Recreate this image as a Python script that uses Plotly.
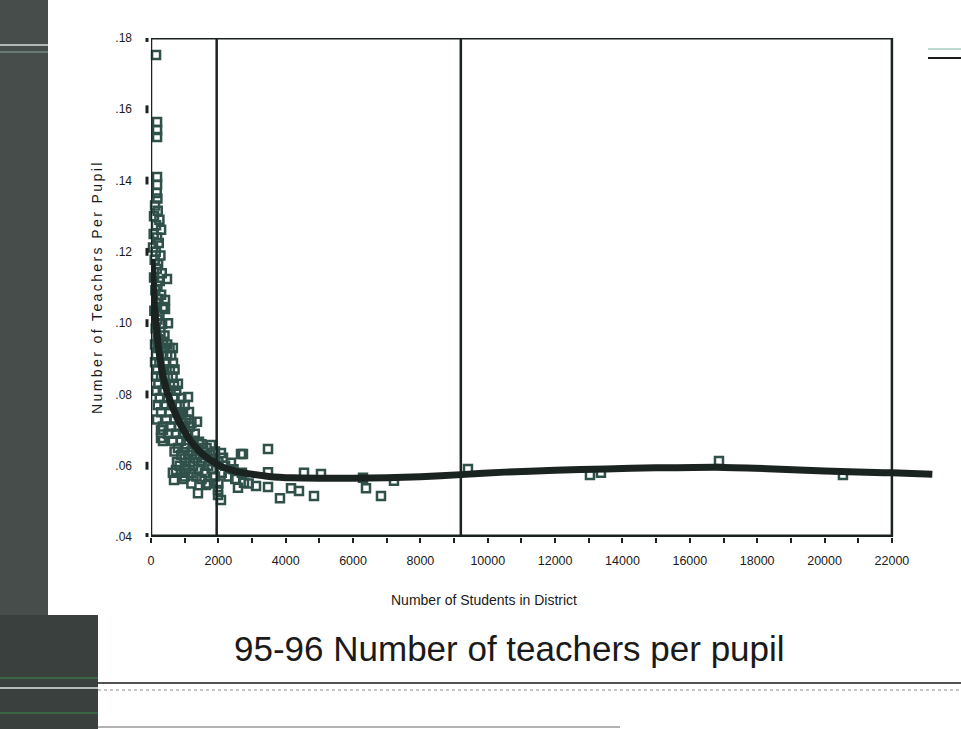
import plotly.graph_objects as go

# District enrolment vs. teachers per pupil, 1995-96
students = [
    150, 180, 180, 180, 180, 180, 170, 190,
    120, 200, 90, 250, 150, 300, 80, 180, 230, 60, 140, 280, 110, 210, 170, 320,
    90, 260, 475, 190, 130, 300, 416, 220, 160, 350, 416, 100, 250, 505, 190, 330,
    140, 280, 400, 200, 350, 480, 120,
    200, 400, 550, 650,
    150, 330, 480, 600,
    250, 450, 653, 120,
    180, 380, 560, 700,
    300, 500, 640, 150,
    220, 420, 683, 800,
    160, 350, 580, 750,
    260, 480, 700, 1099, 900,
    200, 400, 620, 850, 1000,
    300, 550, 780, 1128, 950,
    831,
    180, 450, 700, 900, 1050,
    1366, 1200,
    350, 600, 820, 1000, 1150,
    297, 356,
    500, 750, 950, 1100, 1300,
    297, 1425,
    356, 650, 880, 1250,
    1500, 1781, 1050,
    800, 1000, 1350, 1650,
    700, 1200, 1550, 1900,
    900, 1100, 1450, 1750, 2672,
    2078,
    772, 1000, 1300, 1600, 1850, 2138,
    1150, 1500, 2000, 2375,
    850, 1250, 1700, 2200,
    742, 1050, 1400, 1800, 2450,
    650, 900, 1200, 1600, 2100, 2700, 3474,
    1000, 1350, 1900, 2300,
    950, 683, 1500, 2500,
    1200, 1700, 2000, 2761, 2900,
    1633, 2583, 3118, 3474,
    1990, 1395, 1990, 2078,
    2731, 3474, 3830, 4157, 4394, 4543, 4840, 5047, 6295, 6384, 6829, 7215,
    9412, 13034, 13360, 16865, 20546,
]
teachers_per_pupil = [
    0.1752, 0.1564, 0.1542, 0.1522, 0.1410, 0.1388, 0.1365, 0.1350,
    0.1330, 0.1315, 0.1300, 0.1290, 0.1275, 0.1262, 0.1250, 0.1240, 0.1225, 0.1212, 0.1200, 0.1190, 0.1178, 0.1165, 0.1152, 0.1140,
    0.1128, 0.1118, 0.1124, 0.1105, 0.1092, 0.1080, 0.1065, 0.1068, 0.1055, 0.1045, 0.1040, 0.1035, 0.1022, 0.1000, 0.1010, 0.0998,
    0.0985, 0.0975, 0.0965, 0.0955, 0.0948, 0.0940, 0.0940,
    0.093, 0.093, 0.093, 0.093,
    0.091, 0.091, 0.091, 0.091,
    0.089, 0.089, 0.0888, 0.089,
    0.087, 0.087, 0.087, 0.087,
    0.085, 0.085, 0.085, 0.085,
    0.083, 0.083, 0.0824, 0.083,
    0.081, 0.081, 0.081, 0.081,
    0.079, 0.079, 0.079, 0.0793, 0.079,
    0.077, 0.077, 0.077, 0.077, 0.077,
    0.075, 0.075, 0.075, 0.0751, 0.075,
    0.0742,
    0.073, 0.073, 0.073, 0.073, 0.073,
    0.0723, 0.072,
    0.071, 0.071, 0.071, 0.071, 0.071,
    0.0700, 0.0700,
    0.069, 0.069, 0.069, 0.069, 0.069,
    0.0678, 0.0667,
    0.0669, 0.067, 0.067, 0.067,
    0.066, 0.0658, 0.066,
    0.065, 0.065, 0.065, 0.065,
    0.064, 0.064, 0.064, 0.064,
    0.063, 0.063, 0.063, 0.063, 0.0633,
    0.0636,
    0.0610, 0.062, 0.062, 0.062, 0.062, 0.0622,
    0.061, 0.061, 0.061, 0.0608,
    0.060, 0.060, 0.060, 0.060,
    0.0588, 0.059, 0.059, 0.059, 0.059,
    0.058, 0.058, 0.058, 0.058, 0.058, 0.058, 0.0582,
    0.057, 0.057, 0.057, 0.057,
    0.0563, 0.0560, 0.0563, 0.0563,
    0.055, 0.055, 0.055, 0.0552, 0.055,
    0.0546, 0.0538, 0.0543, 0.0540,
    0.0532, 0.0523, 0.0518, 0.0504,
    0.0633, 0.0647, 0.0509, 0.0537, 0.0529, 0.0580, 0.0515, 0.0577, 0.0566, 0.0537, 0.0515, 0.0558,
    0.0591, 0.0574, 0.0580, 0.0613, 0.0574,
]

# Smoothed trend through the scatter
fit_students = [30, 100, 200, 300, 500, 800, 1100, 1500, 2000, 2500, 3000, 3500, 4200,
                5000, 6000, 7000, 8000, 9200, 10500, 12000, 13500, 15000, 16800,
                18500, 20000, 21500, 22000, 23200]
fit_values = [0.118, 0.105, 0.095, 0.088, 0.080, 0.073, 0.068, 0.0635, 0.0602, 0.0585,
              0.0576, 0.0570, 0.0566, 0.0565, 0.0565, 0.0566, 0.0569, 0.0575, 0.0582,
              0.0587, 0.0591, 0.0594, 0.0596, 0.0591, 0.0585, 0.0581, 0.0580, 0.0576]

x_ticks = [0, 2000, 4000, 6000, 8000, 10000, 12000, 14000, 16000, 18000, 20000, 22000]
x_labels = [str(v) for v in x_ticks]
x_minor = list(range(1000, 22000, 2000))
y_ticks = [0.04, 0.06, 0.08, 0.10, 0.12, 0.14, 0.16, 0.18]
y_labels = [".04", ".06", ".08", ".10", ".12", ".14", ".16", ".18"]

# reference lines splitting district-size groups
group_cuts = [1950, 9200]

X_MAX_AXIS = 22000
X_RANGE = [0, 23250]
Y_RANGE = [0.04, 0.18]

W, H = 961, 729
INK = "#1b2321"
FONT = "Liberation Sans, Arial, sans-serif"

fig = go.Figure()

fig.add_trace(go.Scatter(
    x=students, y=teachers_per_pupil, mode="markers",
    marker=dict(symbol="square-open", size=8, color="#30504a", line=dict(width=2.5)),
    cliponaxis=False, showlegend=False, hoverinfo="x+y",
))
fig.add_trace(go.Scatter(
    x=fit_students, y=fit_values, mode="lines",
    line=dict(color=INK, width=7, shape="spline", smoothing=0.6),
    cliponaxis=False, showlegend=False, hoverinfo="skip",
))

shapes = []
# plot frame
shapes.append(dict(type="line", xref="x", yref="y", x0=0, x1=X_MAX_AXIS, y0=Y_RANGE[0], y1=Y_RANGE[0],
                   line=dict(color=INK, width=5)))
shapes.append(dict(type="line", xref="x", yref="y", x0=0, x1=X_MAX_AXIS, y0=Y_RANGE[1], y1=Y_RANGE[1],
                   line=dict(color=INK, width=3)))
shapes.append(dict(type="line", xref="x", yref="y", x0=0, x1=0, y0=Y_RANGE[0], y1=Y_RANGE[1],
                   line=dict(color=INK, width=2.5)))
shapes.append(dict(type="line", xref="x", yref="y", x0=X_MAX_AXIS, x1=X_MAX_AXIS, y0=Y_RANGE[0], y1=Y_RANGE[1],
                   line=dict(color=INK, width=2.5)))
for c in group_cuts:
    shapes.append(dict(type="line", xref="x", yref="y", x0=c, x1=c, y0=Y_RANGE[0], y1=Y_RANGE[1],
                       line=dict(color=INK, width=2.5)))
# y-axis tick marks: short vertical bars just left of the axis
for t in y_ticks:
    shapes.append(dict(type="line", xref="paper", yref="y", x0=147 / W, x1=147 / W,
                       y0=t - 0.0011, y1=t + 0.0011, line=dict(color=INK, width=3)))

# page furniture: binding strip, rules, legend stub
shapes += [
    dict(type="rect", xref="paper", yref="paper", x0=0, x1=48 / W, y0=(H - 615) / H, y1=1,
         fillcolor="#474d4b", line=dict(width=0), layer="below"),
    dict(type="rect", xref="paper", yref="paper", x0=0, x1=98 / W, y0=0, y1=(H - 615) / H,
         fillcolor="#3a403e", line=dict(width=0), layer="below"),
    dict(type="line", xref="paper", yref="paper", x0=0, x1=48 / W, y0=(H - 45) / H, y1=(H - 45) / H,
         line=dict(color="#d8dcdb", width=1.5)),
    dict(type="line", xref="paper", yref="paper", x0=0, x1=48 / W, y0=(H - 52) / H, y1=(H - 52) / H,
         line=dict(color="#8fa69c", width=1)),
    dict(type="line", xref="paper", yref="paper", x0=0, x1=98 / W, y0=(H - 678) / H, y1=(H - 678) / H,
         line=dict(color="#3f8a4a", width=1)),
    dict(type="line", xref="paper", yref="paper", x0=0, x1=98 / W, y0=(H - 688) / H, y1=(H - 688) / H,
         line=dict(color="#e2e4e3", width=1.5)),
    dict(type="line", xref="paper", yref="paper", x0=0, x1=98 / W, y0=(H - 713) / H, y1=(H - 713) / H,
         line=dict(color="#3f8a4a", width=1)),
    dict(type="line", xref="paper", yref="paper", x0=98 / W, x1=1, y0=(H - 683) / H, y1=(H - 683) / H,
         line=dict(color="#1a1a1a", width=1.5)),
    dict(type="line", xref="paper", yref="paper", x0=98 / W, x1=1, y0=(H - 690) / H, y1=(H - 690) / H,
         line=dict(color="#8a8a8a", width=1, dash="dot")),
    dict(type="line", xref="paper", yref="paper", x0=98 / W, x1=620 / W, y0=(H - 727) / H, y1=(H - 727) / H,
         line=dict(color="#9a9a9a", width=1.5)),
    dict(type="line", xref="paper", yref="paper", x0=928 / W, x1=1, y0=(H - 49) / H, y1=(H - 49) / H,
         line=dict(color="#7fb3a6", width=1)),
    dict(type="line", xref="paper", yref="paper", x0=928 / W, x1=1, y0=(H - 58) / H, y1=(H - 58) / H,
         line=dict(color="#1a1a1a", width=2)),
]

annotations = [
    dict(text='<span style="letter-spacing:2.4px">Number of Teachers Per Pupil</span>',
         xref="paper", yref="paper", x=97 / W, y=(H - 287) / H, textangle=-90, showarrow=False,
         font=dict(family=FONT, size=14, color="#1a1a1a"), xanchor="center", yanchor="middle"),
    dict(text="Number of Students in District", xref="paper", yref="paper",
         x=484 / W, y=(H - 600) / H, showarrow=False,
         font=dict(family=FONT, size=14, color="#1a1a1a"), xanchor="center", yanchor="middle"),
    dict(text="95-96 Number of teachers per pupil", xref="paper", yref="paper",
         x=510 / W, y=(H - 648) / H, showarrow=False,
         font=dict(family=FONT, size=35, color="#1a1a1a"), xanchor="center", yanchor="middle"),
]

fig.update_layout(
    width=W, height=H,
    margin=dict(l=0, r=0, t=0, b=0, pad=0, autoexpand=False),
    paper_bgcolor="white", plot_bgcolor="rgba(0,0,0,0)",
    shapes=shapes, annotations=annotations,
    showlegend=False,
    xaxis=dict(
        domain=[151 / W, 934 / W], range=X_RANGE, automargin=False,
        tickvals=x_ticks, ticktext=x_labels,
        ticks="outside", ticklen=5, tickwidth=2, tickcolor=INK,
        minor=dict(tickvals=x_minor, ticks="outside", ticklen=5, tickwidth=2, tickcolor=INK),
        showgrid=False, zeroline=False, showline=False,
        tickfont=dict(family=FONT, size=12.5, color="#1a1a1a"),
        ticklabelstandoff=7,
    ),
    yaxis=dict(
        domain=[(H - 537) / H, (H - 38) / H], range=Y_RANGE, automargin=False,
        tickvals=y_ticks, ticktext=y_labels, ticks="",
        showgrid=False, zeroline=False, showline=False,
        tickfont=dict(family=FONT, size=12, color="#1a1a1a"),
        ticklabelstandoff=18,
    ),
)

fig.write_html("out.html")
